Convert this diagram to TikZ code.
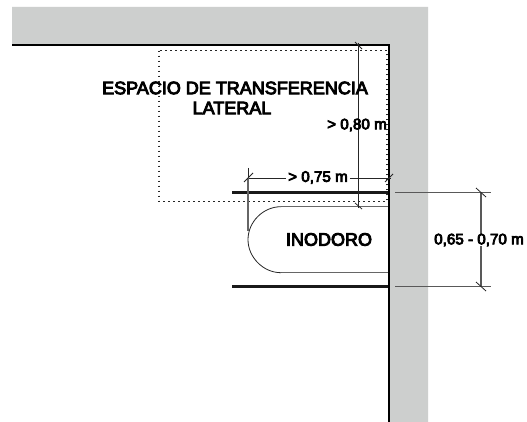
\documentclass[tikz,border=0pt]{standalone}
\usepackage{fontspec}
\setmainfont[FakeBold=5]{Liberation Sans}
\tikzset{
  label text/.style={inner sep=0pt,align=center,text=black,font=\fontsize{18}{22}\selectfont},
  small text/.style={inner sep=1pt,text=black,font=\fontsize{15.2}{18}\selectfont},
  wall line/.style={line width=1.6pt,black},
  bar/.style={line width=2.8pt,black!90},
  thin line/.style={line width=0.8pt,black!85},
  gray line/.style={line width=1.3pt,black!60},
  dim/.style={line width=1.2pt,black!65},
  tick/.style={line width=0.8pt,black!85},
  dots/.style={line width=1.5pt,black!85,dash pattern=on 1.6pt off 3.4pt}
}
\begin{document}
\begin{tikzpicture}[x=1pt,y=-1pt]
\useasboundingbox (0,0) rectangle (527,422);
\fill[white] (0,0) rectangle (527,422);
% wall
\fill[fill={rgb,255:red,205;green,207;blue,206}] (12,7) -- (428,7) -- (428,422) -- (389,422) -- (389,45) -- (12,45) -- cycle;
\draw[wall line] (12,45) -- (389,45) -- (389,422);
% transfer space
\draw[dots] (159,50.7) rectangle (387,201.5);
% grab bars
\coordinate (b1a) at (232,192.5); \coordinate (b1b) at (388,192.5);
\coordinate (b2a) at (232,286.7); \coordinate (b2b) at (388,286.7);
\draw[bar] (b1a) -- (b1b);
\draw[bar] (b2a) -- (b2b);
% toilet
\draw[gray line] (388,206.7) -- (281,206.7);
\draw[gray line] (388,272.7) -- (281,272.7);
\draw[thin line] (281,206.7) .. controls (263,206.7) and (248,222) .. (248,239.7) .. controls (248,257) and (263,272.7) .. (281,272.7);
% dimension 0.65-0.70
\draw[dim] (395,192.5) -- (491,192.5);
\draw[dim] (395,286.7) -- (491,286.7);
\draw[dim] (481,192.5) -- (481,286.7);
\draw[tick] (476,188) -- (486,197);
\draw[tick] (476,282) -- (486,291);
\node[small text,fill=white,inner sep=0pt] (d3) at (479,240) {0,65 - 0,70 m};
% dimension 0.75
\node[small text,fill=white,inner sep=2pt] (d2) at (318,177.5) {> 0,75 m};
\draw[thin line] (247.5,178) -- (d2.west |- 0,178);
\draw[thin line] (d2.east |- 0,178) -- (391,178);
\draw[gray line] (248,178) -- (248,231);
\draw[thin line] (248,168) -- (248,178);
\draw[tick] (244,182) -- (253,173);
\draw[tick] (385,182) -- (393,174);
% dimension 0.80
\draw[thin line] (358,43) -- (358,208);
\draw[tick] (355,42) -- (362,49);
\draw[tick] (355,203) -- (362,209);
\node[small text,inner sep=0pt] (d1) at (357,125) {> 0,80 m};
% labels
\node[label text] (esp) at (235,88) {ESPACIO DE TRANSFERENCIA};
\node[label text] (lat) at (232,108) {LATERAL};
\node[label text] (ino) at (329,239.5) {INODORO};
\end{tikzpicture}
\end{document}
